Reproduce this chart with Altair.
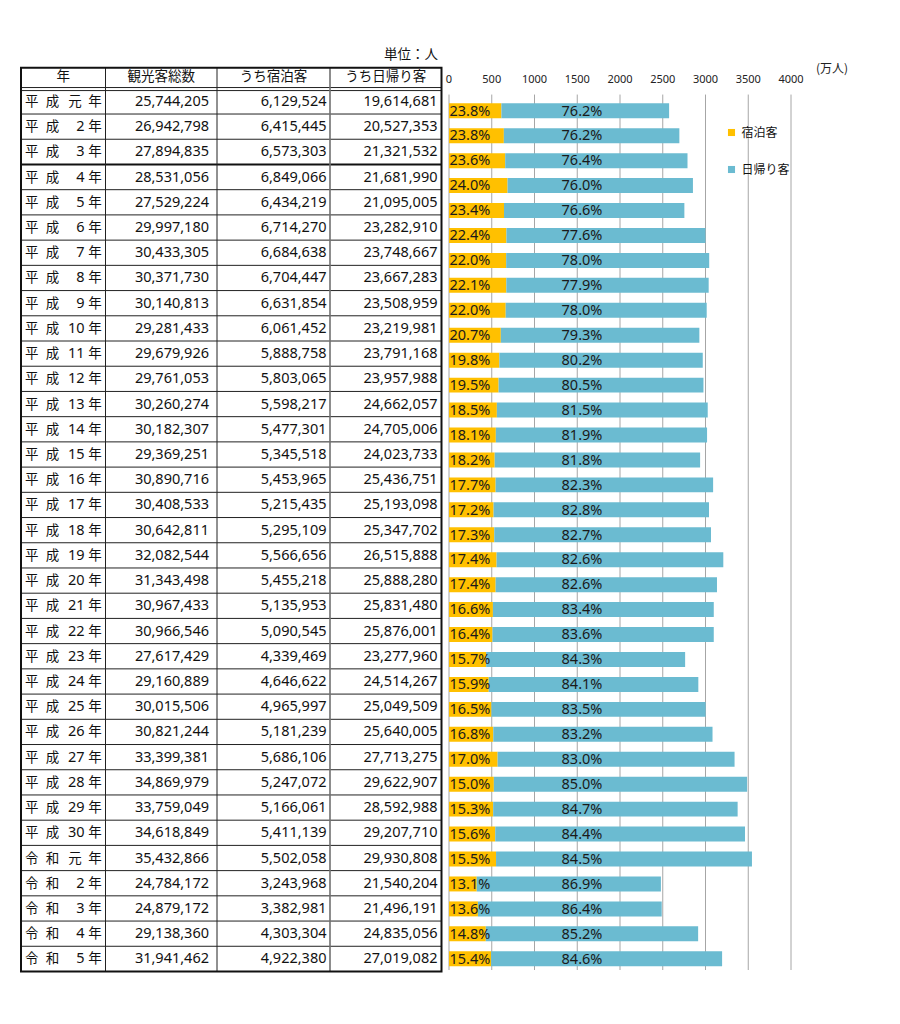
import altair as alt
import pandas as pd

# ---------------- data ----------------
years = ["平成元年", "平成2年", "平成3年", "平成4年", "平成5年", "平成6年", "平成7年",
         "平成8年", "平成9年", "平成10年", "平成11年", "平成12年", "平成13年", "平成14年",
         "平成15年", "平成16年", "平成17年", "平成18年", "平成19年", "平成20年", "平成21年",
         "平成22年", "平成23年", "平成24年", "平成25年", "平成26年", "平成27年", "平成28年",
         "平成29年", "平成30年", "令和元年", "令和2年", "令和3年", "令和4年", "令和5年"]
total = [25744205, 26942798, 27894835, 28531056, 27529224, 29997180, 30433305, 30371730,
         30140813, 29281433, 29679926, 29761053, 30260274, 30182307, 29369251, 30890716,
         30408533, 30642811, 32082544, 31343498, 30967433, 30966546, 27617429, 29160889,
         30015506, 30821244, 33399381, 34869979, 33759049, 34618849, 35432866, 24784172,
         24879172, 29138360, 31941462]
stay = [6129524, 6415445, 6573303, 6849066, 6434219, 6714270, 6684638, 6704447, 6631854,
        6061452, 5888758, 5803065, 5598217, 5477301, 5345518, 5453965, 5215435, 5295109,
        5566656, 5455218, 5135953, 5090545, 4339469, 4646622, 4965997, 5181239, 5686106,
        5247072, 5166061, 5411139, 5502058, 3243968, 3382981, 4303304, 4922380]
day = [19614681, 20527353, 21321532, 21681990, 21095005, 23282910, 23748667, 23667283,
       23508959, 23219981, 23791168, 23957988, 24662057, 24705006, 24023733, 25436751,
       25193098, 25347702, 26515888, 25888280, 25831480, 25876001, 23277960, 24514267,
       25049509, 25640005, 27713275, 29622907, 28592988, 29207710, 29930808, 21540204,
       21496191, 24835056, 27019082]
stay_pct = [23.8, 23.8, 23.6, 24.0, 23.4, 22.4, 22.0, 22.1, 22.0, 20.7, 19.8, 19.5, 18.5,
            18.1, 18.2, 17.7, 17.2, 17.3, 17.4, 17.4, 16.6, 16.4, 15.7, 15.9, 16.5, 16.8,
            17.0, 15.0, 15.3, 15.6, 15.5, 13.1, 13.6, 14.8, 15.4]
day_pct = [76.2, 76.2, 76.4, 76.0, 76.6, 77.6, 78.0, 77.9, 78.0, 79.3, 80.2, 80.5, 81.5,
           81.9, 81.8, 82.3, 82.8, 82.7, 82.6, 82.6, 83.4, 83.6, 84.3, 84.1, 83.5, 83.2,
           83.0, 85.0, 84.7, 84.4, 84.5, 86.9, 86.4, 85.2, 84.6]
headers = ["年", "観光客総数", "うち宿泊客", "うち日帰り客"]
unit_table = "単位：人"
unit_chart = "(万人)"
series = ["宿泊客", "日帰り客"]
colors = ["#FFC000", "#6BBBD1"]
ticks = [0, 500, 1000, 1500, 2000, 2500, 3000, 3500, 4000]

# ---------------- layout constants ----------------
JP = "Noto Sans CJK JP"
NUM = "Noto Sans"
n = len(years)
col_w = [84.5, 111.5, 113, 111.5]
edges = [0]
for w in col_w:
    edges.append(edges[-1] + w)
TW = edges[-1]
HDR_TOP = -0.837
H = 930
GAP = 7

TX = alt.Scale(domain=[0, TW], nice=False, zero=False)
TY = alt.Scale(domain=[-1.856, 35.02], reverse=True, nice=False, zero=False)


def txd(v):
    return alt.XDatum(v, type="quantitative", scale=TX, axis=None)


def tyd(v):
    return alt.YDatum(v, type="quantitative", scale=TY, axis=None)


def tyf(f):
    return alt.Y(f, type="quantitative", scale=TY, axis=None)


def txf(f):
    return alt.X(f, type="quantitative", scale=TX, axis=None)


one = pd.DataFrame({"k": [0]})

tdf = pd.DataFrame({
    "i": list(range(n)),
    "c1": [y[0] for y in years],
    "c2": [y[1] for y in years],
    "num": [y[2:-1] for y in years],
    "nen": [y[-1] for y in years],
    "tot": [f"{v:,}" for v in total],
    "sty": [f"{v:,}" for v in stay],
    "dy": [f"{v:,}" for v in day],
})

base_t = alt.Chart(tdf).transform_calculate(yc="datum.i + 0.52")


def jtext(**kw):
    return dict(font=JP, fontSize=13.5, color="#111111", baseline="middle", **kw)


era1 = base_t.mark_text(**jtext(align="center")).encode(x=txd(10.7), y=tyf("yc"), text="c1:N")
era2 = base_t.mark_text(**jtext(align="center")).encode(x=txd(31.5), y=tyf("yc"), text="c2:N")
numd = base_t.transform_filter("datum.num != '元'").mark_text(
    font=NUM, fontSize=14.5, color="#111111", baseline="middle", align="right"
).encode(x=txd(63.5), y=tyf("yc"), text="num:N")
gen = base_t.transform_filter("datum.num == '元'").mark_text(**jtext(align="center")).encode(
    x=txd(54), y=tyf("yc"), text="num:N")
nen = base_t.mark_text(**jtext(align="center")).encode(x=txd(74), y=tyf("yc"), text="nen:N")

pads = [8, 3.5, 4]
num_layers = []
for k, fld in enumerate(["tot", "sty", "dy"]):
    num_layers.append(
        base_t.mark_text(font=NUM, fontSize=14.5, color="#111111", baseline="middle", align="right")
        .encode(x=txd(edges[k + 2] - pads[k]), y=tyf("yc"), text=f"{fld}:N")
    )

hdf = pd.DataFrame({"h": headers, "c": list(range(4))})
hdr = alt.Chart(hdf).transform_calculate(
    xc=f"([{','.join(str((edges[j] + edges[j + 1]) / 2) for j in range(4))}])[datum.c]"
).mark_text(font=JP, fontSize=13.5, color="#111111", baseline="middle", align="center").encode(
    x=txf("xc"), y=tyd(-0.47), text="h:N")

unit_t = alt.Chart(one).mark_text(font=JP, fontSize=13.5, color="#111111", baseline="middle",
                                  align="right").encode(x=txd(TW - 3.5), y=tyd(-1.33),
                                                        text=alt.value(unit_table))

bdf = pd.DataFrame({"b": list(range(1, n))})
hl = alt.Chart(bdf).transform_filter("datum.b != 3").mark_rule(color="#222222", strokeWidth=1).encode(
    x=txd(0), x2=alt.X2Datum(TW), y=tyf("b"))
hl3 = alt.Chart(bdf).transform_filter("datum.b == 3").mark_rule(color="#111111", strokeWidth=2).encode(
    x=txd(0), x2=alt.X2Datum(TW), y=tyf("b"))
dbl1 = alt.Chart(one).mark_rule(color="#222222", strokeWidth=1).encode(
    x=txd(0), x2=alt.X2Datum(TW), y=tyd(-0.05))
dbl2 = alt.Chart(one).mark_rule(color="#222222", strokeWidth=1).encode(
    x=txd(0), x2=alt.X2Datum(TW), y=tyd(0.07))

vdf = pd.DataFrame({"e": edges[1:4], "g": [0, 0, 1]})
vl = alt.Chart(vdf).transform_filter("datum.g == 0").mark_rule(color="#222222", strokeWidth=1).encode(
    x=txf("e"), y=tyd(HDR_TOP), y2=alt.Y2Datum(n))
vlg = alt.Chart(vdf).transform_filter("datum.g == 1").mark_rule(color="#707070", strokeWidth=1.6).encode(
    x=txf("e"), y=tyd(HDR_TOP), y2=alt.Y2Datum(n))
outer = alt.Chart(one).mark_rect(fillOpacity=0, stroke="#111111", strokeWidth=2).encode(
    x=txd(0), x2=alt.X2Datum(TW), y=tyd(HDR_TOP), y2=alt.Y2Datum(n))

table = alt.layer(hl, hl3, dbl1, dbl2, vl, vlg, outer, hdr, unit_t, era1, era2, numd, gen, nen,
                  *num_layers).properties(width=TW, height=H)

# ---------------- bar chart ----------------
BX = alt.Scale(domain=[0, 4000], nice=False, zero=False)
BY = alt.Scale(domain=[-2.257, 35.03], reverse=True, nice=False, zero=False)


def bxd(v):
    return alt.XDatum(v, type="quantitative", scale=BX, axis=None)


def byd(v):
    return alt.YDatum(v, type="quantitative", scale=BY, axis=None)


def byf(f):
    return alt.Y(f, type="quantitative", scale=BY, axis=None)


rows = []
for i in range(n):
    s = stay[i] / 10000
    d = day[i] / 10000
    rows.append({"i": i, "series": series[0], "x0": 0, "x1": s})
    rows.append({"i": i, "series": series[1], "x0": s, "x1": s + d})
bars_df = pd.DataFrame(rows)

# legend position is relative to the whole chart: offset by the table panel width
LEG_X = TW + GAP + 277
bars = alt.Chart(bars_df).transform_calculate(
    ya="datum.i + 0.2", yb="datum.i + 0.8"
).mark_bar().encode(
    x=alt.X("x0:Q", scale=BX, axis=None),
    x2="x1:Q",
    y=byf("ya"),
    y2="yb:Q",
    color=alt.Color("series:N", scale=alt.Scale(domain=series, range=colors),
                    legend=alt.Legend(orient="none", legendX=LEG_X, legendY=84.5, title=None,
                                      symbolType="square", symbolSize=50, symbolStrokeWidth=0,
                                      labelFont=JP, labelFontSize=12, labelColor="#111111",
                                      labelOffset=4, rowPadding=25, padding=0)),
)

tick_df = pd.DataFrame({"t": ticks})
grid = alt.Chart(tick_df).mark_rule(color="#A6A6A6", strokeWidth=1).encode(
    x=alt.X("t:Q", scale=BX, axis=None), y=byd(-0.15), y2=alt.Y2Datum(34.95))
tick_lbl = alt.Chart(tick_df).mark_text(font=NUM, fontSize=11, color="#222222", baseline="middle",
                                        align="center").encode(
    x=alt.X("t:Q", scale=BX, axis=None), y=byd(-0.73), text="t:Q")
unit_c = alt.Chart(one).mark_text(font=JP, fontSize=12, color="#222222", baseline="middle",
                                  align="center", dx=41).encode(
    x=bxd(4000), y=byd(-1.19), text=alt.value(unit_chart))

pdf = pd.DataFrame({"i": list(range(n)),
                    "sp": [f"{p:.1f}%" for p in stay_pct],
                    "dp": [f"{p:.1f}%" for p in day_pct]})
pbase = alt.Chart(pdf).transform_calculate(yc="datum.i + 0.53")
plab1 = pbase.mark_text(font=NUM, fontSize=14.5, color="#1A1A1A", baseline="middle", align="left",
                        dx=0.5).encode(x=bxd(0), y=byf("yc"), text="sp:N")
plab2 = pbase.mark_text(font=NUM, fontSize=14.5, color="#1A1A1A", baseline="middle",
                        align="center").encode(x=bxd(1555), y=byf("yc"), text="dp:N")

barchart = alt.layer(grid, bars, tick_lbl, unit_c, plab1, plab2).properties(width=342, height=H)

chart = alt.hconcat(table, barchart, spacing=GAP, bounds="flush").properties(
    padding={"left": 12, "top": 34, "right": 5, "bottom": 5},
    background="white",
).configure_view(stroke=None)

chart.save("out.html", embed_options={"renderer": "svg", "actions": False})
